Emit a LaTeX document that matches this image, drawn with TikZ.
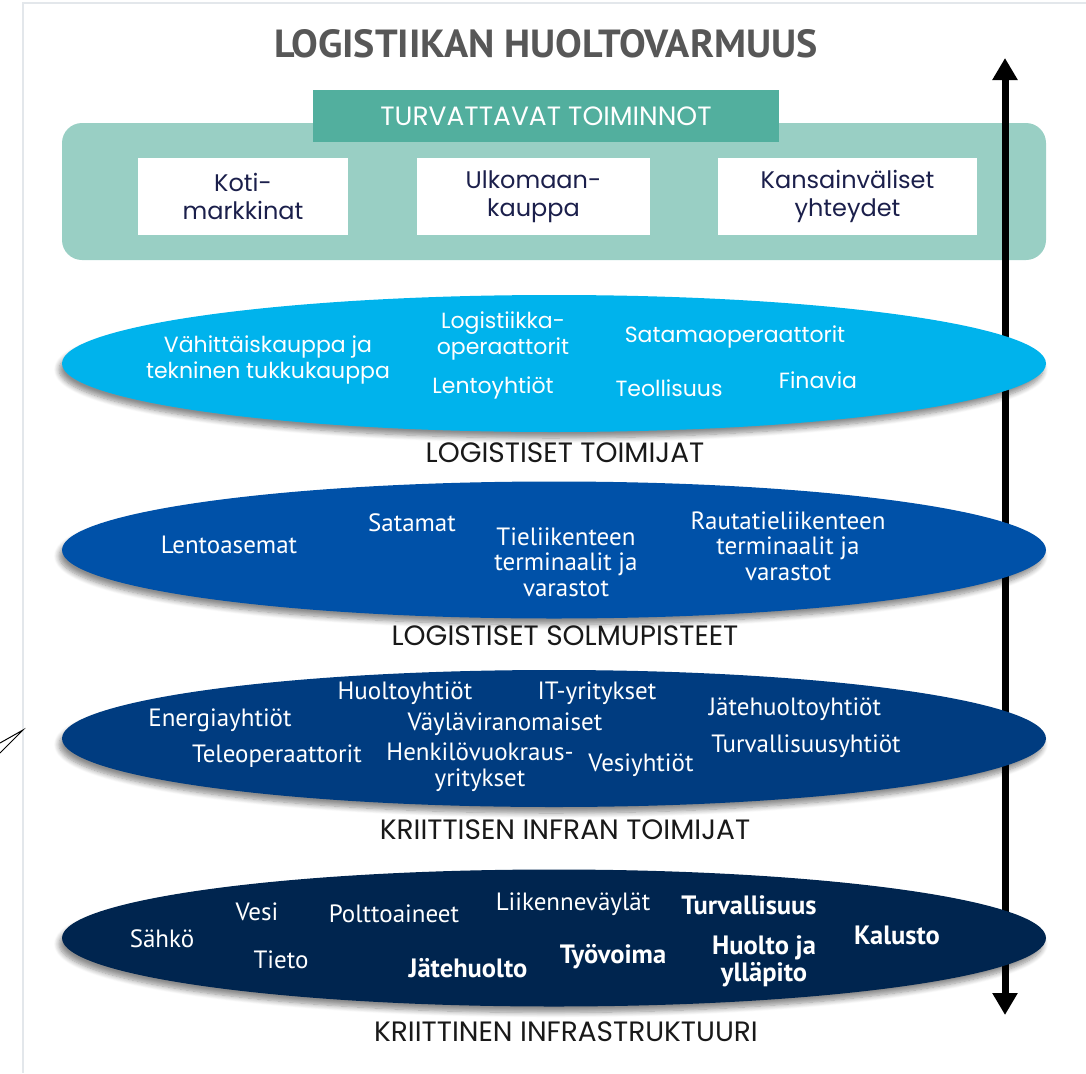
\documentclass[tikz,border=0pt]{standalone}
\usepackage{fontspec}
\usepackage{graphicx}
\usetikzlibrary{shapes,arrows.meta,shadows,shadows.blur}
\setmainfont{Poppins}
\newfontfamily\kapea{PT Sans}
\definecolor{kehys}{HTML}{E3E7EB}
\definecolor{vaaleaturkoosi}{HTML}{99CFC4}
\definecolor{turkoosi}{HTML}{52AF9E}
\definecolor{taivas}{HTML}{00B3EC}
\definecolor{sininen}{HTML}{0051A8}
\definecolor{tummasininen}{HTML}{003C80}
\definecolor{laivasto}{HTML}{00254F}
\definecolor{otsikkoharmaa}{HTML}{575757}
\definecolor{teksti}{HTML}{1B1F4B}

\begin{document}
\begin{tikzpicture}[x=1pt,y=-1pt,
  kerros/.style={ellipse, minimum width=984pt, minimum height=137pt, inner sep=0pt, blur shadow={shadow xshift=-3pt, shadow yshift=-6pt, shadow blur radius=5pt, shadow blur steps=8, shadow opacity=45}},
  toiminto/.style={fill=white, minimum height=77pt, align=center, text=teksti, font=\fontsize{24}{28}\selectfont},
  vaalea/.style={text=white, align=center, font=\fontsize{22}{26.5}\selectfont},
  kapea/.style={text=white, align=center, font=\kapea\fontsize{25}{25.5}\selectfont},
  lihava/.style={kapea, font=\kapea\bfseries\fontsize{26.5}{27}\selectfont},
  taso/.style={text=black!90, font=\fontsize{28}{30}\selectfont}]
\useasboundingbox (0,0) rectangle (1086,1073);
\draw[kehys, line width=2pt] (23,1073) -- (23,3) -- (1086,3);
\draw[line width=1pt] (0,743) -- (23,730) -- (0,753);

\node (otsikko) at (546,44) {\resizebox{543pt}{28pt}{\kapea\bfseries\color{otsikkoharmaa}LOGISTIIKAN HUOLTOVARMUUS}};

% turvattavat toiminnot
\node[fill=vaaleaturkoosi, rounded corners=20pt, minimum width=984pt, minimum height=137pt] (toiminnot) at (554,191.5) {};
\node[fill=turkoosi, minimum width=466pt, minimum height=52pt, text=white, font=\fontsize{26.5}{28}\selectfont] (otsake) at (546,116) {TURVATTAVAT TOIMINNOT};
\node[toiminto, minimum width=210pt] (koti) at (243,196.5) {Koti-\\markkinat};
\node[toiminto, minimum width=233pt] (ulkomaa) at (533.5,196.5) {Ulkomaan-\\kauppa};
\node[toiminto, minimum width=259pt] (yhteydet) at (847.5,196.5) {Kansainväliset\\yhteydet};

\coordinate (ylos) at (1005,58);
\coordinate (alas) at (1005,1015);
\draw[line width=7pt, {Triangle[length=22pt,width=24pt]}-{Triangle[length=22pt,width=24pt]}] (alas) -- (ylos);

% logistiset toimijat
\node[kerros, fill=taivas] (toimijat) at (554,363.5) {};
\node[vaalea] (vahittais) at (268,360) {Vähittäiskauppa ja\\tekninen tukkukauppa};
\node[vaalea] (operaattorit) at (503,336) {Logistiikka-\\operaattorit};
\node[vaalea] (lento) at (493,388) {Lentoyhtiöt};
\node[vaalea] (satamaop) at (735,337) {Satamaoperaattorit};
\node[vaalea] (teollisuus) at (669,388) {Teollisuus};
\node[vaalea] (finavia) at (818,380) {Finavia};
\node[taso] (toimijat-nimi) at (565,453) {LOGISTISET TOIMIJAT};

% logistiset solmupisteet
\node[kerros, fill=sininen] (solmut) at (554,550) {};
\node[kapea] (lentoasemat) at (229,545) {Lentoasemat};
\node[kapea] (satamat) at (412,523) {Satamat};
\node[kapea] (tie) at (566,562) {Tieliikenteen\\terminaalit ja\\varastot};
\node[kapea] (rauta) at (788,546) {Rautatieliikenteen\\terminaalit ja\\varastot};
\node[taso] (solmut-nimi) at (565,636) {LOGISTISET SOLMUPISTEET};

% kriittisen infran toimijat
\node[kerros, fill=tummasininen] (infratoimijat) at (554,738.5) {};
\node[kapea] (energia) at (220,720) {Energiayhtiöt};
\node[kapea] (huoltoyht) at (405,693) {Huoltoyhtiöt};
\node[kapea] (it) at (597,693) {IT-yritykset};
\node[kapea] (jateyht) at (795,709) {Jätehuoltoyhtiöt};
\node[kapea] (vayla) at (505,724) {Väyläviranomaiset};
\node[kapea] (tele) at (277,756) {Teleoperaattorit};
\node[kapea] (henkilo) at (480,767) {Henkilövuokraus-\\yritykset};
\node[kapea] (vesiyht) at (641,765) {Vesiyhtiöt};
\node[kapea] (turvayht) at (806,746) {Turvallisuusyhtiöt};
\node[taso] (infratoimijat-nimi) at (565,830) {KRIITTISEN INFRAN TOIMIJAT};

% kriittinen infrastruktuuri
\node[kerros, fill=laivasto] (infra) at (554,938) {};
\node[kapea] (sahko) at (162,939) {Sähkö};
\node[kapea] (vesi) at (257,912) {Vesi};
\node[kapea] (tieto) at (281,960) {Tieto};
\node[kapea] (poltto) at (394,914) {Polttoaineet};
\node[kapea] (liikenne) at (573,904) {Liikenneväylät};
\node[lihava] (turva) at (749,905) {Turvallisuus};
\node[lihava] (jate) at (468,968) {Jätehuolto};
\node[lihava] (tyovoima) at (613,957) {Työvoima};
\node[lihava] (yllapito) at (764,961) {Huolto ja\\ylläpito};
\node[lihava] (kalusto) at (897,935) {Kalusto};
\node[taso] (infra-nimi) at (566,1032) {KRIITTINEN INFRASTRUKTUURI};
\end{tikzpicture}
\end{document}
